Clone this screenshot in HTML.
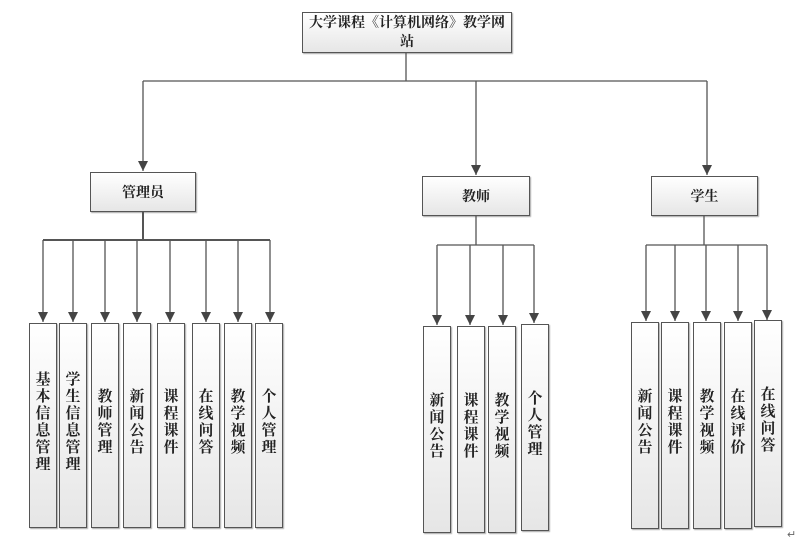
<!DOCTYPE html>
<html><head><meta charset="utf-8"><style>
body{margin:0;width:811px;height:542px;background:#fff;position:relative;overflow:hidden;font-family:"Liberation Serif","Noto Serif CJK SC","Noto Sans CJK SC",serif;font-weight:bold;color:#222}
.b{position:absolute;box-sizing:border-box;border:1px solid #555;background:linear-gradient(#fff,#e6e6e6);box-shadow:1px 1px 1px #aaa;display:flex;align-items:center;justify-content:center;text-align:center}
.v{font-size:15px;line-height:17px;width:16px;word-break:break-all;margin-top:-6px}
svg{position:absolute;left:0;top:0;z-index:2}
</style></head><body>
<svg width="811" height="542">
<defs><marker id="a" markerWidth="10" markerHeight="10" refX="10" refY="5" orient="auto" markerUnits="userSpaceOnUse"><path d="M0,0 L10,5 L0,10 Z" fill="#444"/></marker></defs>
<g stroke="#555" stroke-width="1.3" fill="none">
<path d="M406,53 V81 M143,81 H707"/>
<path d="M143,81 V171" marker-end="url(#a)"/>
<path d="M476,81 V175" marker-end="url(#a)"/>
<path d="M707,81 V175" marker-end="url(#a)"/>
<path d="M143,212 V240 M43,240 H270" stroke-width="2"/>
<path d="M43,240V322" marker-end="url(#a)"/>
<path d="M73,240V322" marker-end="url(#a)"/>
<path d="M105,240V322" marker-end="url(#a)"/>
<path d="M137,240V322" marker-end="url(#a)"/>
<path d="M170,240V322" marker-end="url(#a)"/>
<path d="M206,240V322" marker-end="url(#a)"/>
<path d="M238,240V322" marker-end="url(#a)"/>
<path d="M270,240V322" marker-end="url(#a)"/>
<path d="M476,216 V245 M437,245 H534"/>
<path d="M437,245V325" marker-end="url(#a)"/>
<path d="M470,245V325" marker-end="url(#a)"/>
<path d="M503,245V325" marker-end="url(#a)"/>
<path d="M534,245V323" marker-end="url(#a)"/>
<path d="M704,216 V245 M646,245 H767"/>
<path d="M646,245V321" marker-end="url(#a)"/>
<path d="M675,245V321" marker-end="url(#a)"/>
<path d="M706,245V321" marker-end="url(#a)"/>
<path d="M738,245V321" marker-end="url(#a)"/>
<path d="M767,245V320" marker-end="url(#a)"/>
</g>
<text x="787" y="538" font-size="11" fill="#666" font-weight="normal">↵</text>
</svg>
<div class="b" style="left:302px;top:12px;width:210px;height:41px;font-size:14px;line-height:19px;padding:0 4px">大学课程《计算机网络》教学网站</div>
<div class="b" style="left:90px;top:172px;width:106px;height:40px;font-size:14px">管理员</div>
<div class="b" style="left:422px;top:176px;width:108px;height:40px;font-size:14px">教师</div>
<div class="b" style="left:651px;top:176px;width:107px;height:40px;font-size:14px">学生</div>

<div class="b" style="left:29px;top:323px;width:28px;height:205px"><div class="v">基本信息管理</div></div>
<div class="b" style="left:59px;top:323px;width:28px;height:205px"><div class="v">学生信息管理</div></div>
<div class="b" style="left:91px;top:323px;width:28px;height:205px"><div class="v">教师管理</div></div>
<div class="b" style="left:123px;top:323px;width:28px;height:205px"><div class="v">新闻公告</div></div>
<div class="b" style="left:157px;top:323px;width:28px;height:205px"><div class="v">课程课件</div></div>
<div class="b" style="left:192px;top:323px;width:28px;height:205px"><div class="v">在线问答</div></div>
<div class="b" style="left:224px;top:323px;width:28px;height:205px"><div class="v">教学视频</div></div>
<div class="b" style="left:255px;top:323px;width:28px;height:205px"><div class="v">个人管理</div></div>

<div class="b" style="left:423px;top:326px;width:28px;height:207px"><div class="v">新闻公告</div></div>
<div class="b" style="left:457px;top:326px;width:28px;height:207px"><div class="v">课程课件</div></div>
<div class="b" style="left:488px;top:326px;width:28px;height:207px"><div class="v">教学视频</div></div>
<div class="b" style="left:521px;top:324px;width:28px;height:207px"><div class="v">个人管理</div></div>

<div class="b" style="left:631px;top:322px;width:28px;height:207px"><div class="v">新闻公告</div></div>
<div class="b" style="left:661px;top:322px;width:28px;height:207px"><div class="v">课程课件</div></div>
<div class="b" style="left:693px;top:322px;width:28px;height:207px"><div class="v">教学视频</div></div>
<div class="b" style="left:724px;top:322px;width:28px;height:207px"><div class="v">在线评价</div></div>
<div class="b" style="left:754px;top:320px;width:28px;height:207px"><div class="v">在线问答</div></div>
</body></html>
